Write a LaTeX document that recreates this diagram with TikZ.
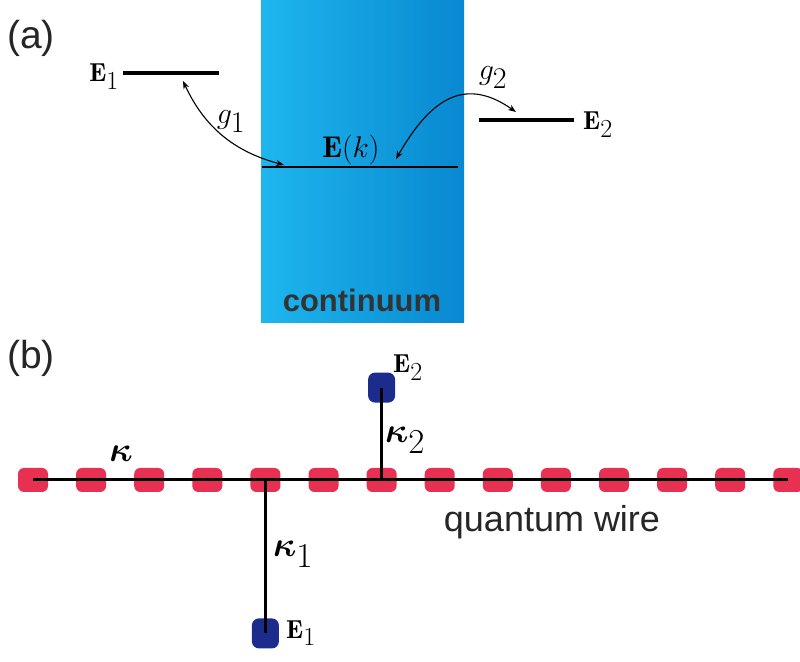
\documentclass[tikz,border=0pt]{standalone}
\usepackage{fix-cm}
\usepackage{bm}
\usepackage{fontspec}
\setsansfont{Liberation Sans}
\usetikzlibrary{arrows.meta,positioning}
\definecolor{bandleft}{RGB}{30,182,238}
\definecolor{bandright}{RGB}{8,136,208}
\definecolor{sitered}{RGB}{232,48,82}
\definecolor{atomblue}{RGB}{28,44,140}
\tikzset{
  qband/.style={draw=none, left color=bandleft, right color=bandright, inner sep=0pt},
  qlevel/.style={line width=3.5pt},
  qthin/.style={line width=1.3pt},
  qcoup/.style={{Stealth[length=8pt,width=6pt]}-{Stealth[length=8pt,width=6pt]}, line width=1.1pt},
  qsite/.style={fill=sitered, rounded corners=6pt, minimum width=30pt, minimum height=24pt, inner sep=0pt},
  qatom/.style={fill=atomblue, rounded corners=7pt, minimum width=27pt, minimum height=30pt, inner sep=0pt},
  qwire/.style={line width=3pt},
  qsym/.style={inner sep=0pt, font=\fontsize{26}{30}\selectfont},
  qbig/.style={inner sep=0pt, font=\fontsize{30}{35}\selectfont},
  qkap/.style={inner sep=0pt, font=\fontsize{35}{40}\selectfont},
  qpanel/.style={inner sep=0pt, text=black!85, font=\sffamily\fontsize{39}{45}\selectfont},
  qtext/.style={inner sep=0pt, text=black!85, font=\sffamily\fontsize{36}{41}\selectfont}
}
\newcommand{\lsub}[1]{_{\textstyle #1}}

\begin{document}
\begin{tikzpicture}[x=1pt,y=1pt]
\useasboundingbox (0,0) rectangle (800,661);
% (a) discrete levels coupled to a continuum
\node[qpanel] (pa) at (31,623) {(a)};
\node[qband, minimum width=203pt, minimum height=323pt] (band) at (362.5,499.5) {};
\node[inner sep=0pt, text=black!80, font=\sffamily\bfseries\fontsize{31}{36}\selectfont] (cont) at (362,361) {continuum};
\coordinate (e1a) at (123,588);
\coordinate (e1b) at (219,588);
\coordinate (eka) at (262,494);
\coordinate (ekb) at (458,494);
\coordinate (e2a) at (479,541);
\coordinate (e2b) at (574,541);
\draw[qlevel] (e1a) -- (e1b);
\draw[qthin] (eka) -- (ekb);
\draw[qlevel] (e2a) -- (e2b);
\node[qsym, anchor=base east] (e1lab) at (119,579) {$\mathbf{E}\lsub{1}$};
\node[qsym, anchor=base west] (e2lab) at (583,531) {$\mathbf{E}\lsub{2}$};
\node[qbig] (eklab) at (351,511) {$\mathbf{E}(k)$};
\coordinate (g1s) at (183,580);
\coordinate (g1e) at (284,496);
\coordinate (g2s) at (396,502);
\coordinate (g2e) at (516,549);
\draw[qcoup] (g1s) to[out=-65,in=165] (g1e);
\draw[qcoup] (g2s) to[out=60,in=145,looseness=1.3] (g2e);
\node[qbig] (g1lab) at (231,539) {$g\lsub{1}$};
\node[qbig] (g2lab) at (493,583) {$g\lsub{2}$};
% (b) emitters side-coupled to a quantum wire
\node[qpanel] (pb) at (31,303) {(b)};
\foreach \i in {0,...,13}
  \node[qsite] (s\i) at ({33+58.1*\i},181) {};
\node[qatom, above=65pt of s6] (a2) {};
\node[qatom, below=126pt of s4] (a1) {};
\draw[qwire] (s0.center) -- (s13.center);
\draw[qwire] (a2.center) -- (s6.center);
\draw[qwire] (a1.center) -- (s4.center);
\node[qkap] (kap) at (121,207) {$\bm{\kappa}$};
\node[qkap] (kap2) at (405,221) {$\bm{\kappa}\lsub{2}$};
\node[qkap] (kap1) at (293,107) {$\bm{\kappa}\lsub{1}$};
\node[qsym, anchor=base west] (e2b) at (393,288) {$\mathbf{E}\lsub{2}$};
\node[qsym, anchor=base west] (e1b) at (286,23) {$\mathbf{E}\lsub{1}$};
\node[qtext, anchor=base] (wire) at (552,129) {quantum wire};
\end{tikzpicture}
\end{document}
